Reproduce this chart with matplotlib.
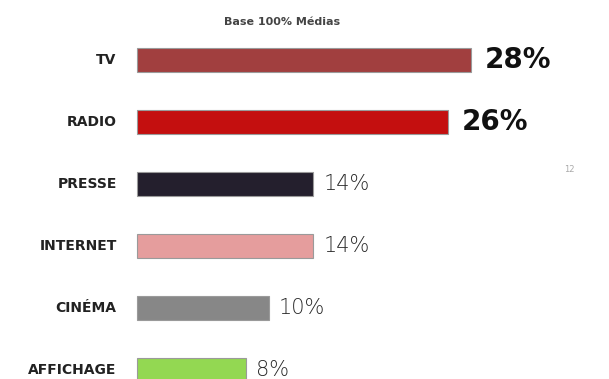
import numpy as np
from matplotlib import pyplot as plt

# media share, base 100% medias
medias = ['TV', 'RADIO', 'PRESSE', 'INTERNET', 'CINÉMA', 'AFFICHAGE']
shares = np.array([28, 26, 14, 14, 10, 8])
bar_colors = ['#A13F3F', '#C40F0F', '#241F2D', '#E59D9D', '#878787', '#93D852']
big = [True, True, False, False, False, False]

pad = 1.7   # bars start a little left of zero, as in the original slide

fig = plt.figure(figsize=(6.09, 3.79), dpi=100)
ax = fig.add_axes([0, 0, 1, 1])

ypos = np.arange(len(medias))
ax.barh(ypos, shares + pad, left=-pad, height=0.39, color=bar_colors,
        edgecolor='#9a9a9a', linewidth=0.8)

for y, name, v, b in zip(ypos, medias, shares, big):
    ax.text(-pad - 1.8, y, name, ha='right', va='center', fontsize=10,
            fontweight='bold', color='#222222')
    if b:
        ax.text(v + 1.2, y, '%d%%' % v, ha='left', va='center', fontsize=20,
                fontweight='bold', color='#111111')
    else:
        ax.text(v + 0.9, y, '%d%%' % v, ha='left', va='center', fontsize=15,
                fontweight='light', color='#2a2a2a')

ax.set_xlim(-13.87, 40.27)
ax.set_ylim(5.145, -0.968)
ax.axis('off')

fig.text(0.463, 0.942, 'Base 100% Médias', ha='center', va='center',
         fontsize=8, fontweight='bold', color='#444444')
fig.text(0.935, 0.552, '12', ha='center', va='center', fontsize=6,
         color='#aaaaaa')

plt.savefig('out.png', dpi=100)
plt.close()
